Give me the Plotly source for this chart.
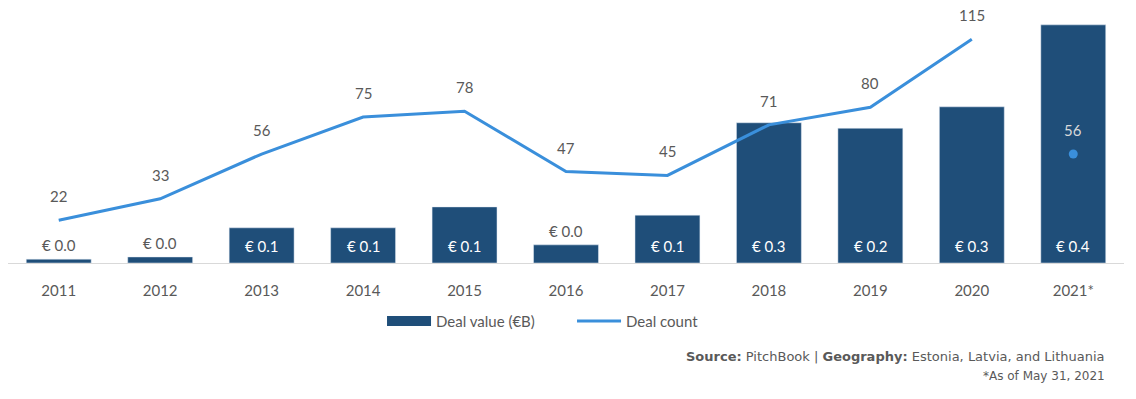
import plotly.graph_objects as go

years = ["2011", "2012", "2013", "2014", "2015", "2016", "2017", "2018", "2019", "2020", "2021*"]
deal_value = [0.007, 0.011, 0.064, 0.064, 0.102, 0.033, 0.087, 0.255, 0.245, 0.284, 0.433]
deal_count = [22, 33, 56, 75, 78, 47, 45, 71, 80, 115, 56]
label_outside = [True, True, False, False, False, True, False, False, False, False, False]

BAR = "#1F4E79"
LINE = "#3A8FDB"
GRAY = "#595959"
FONT = "Lato, 'Open Sans', sans-serif"
SRC_FONT = "'DejaVu Sans', sans-serif"

fig = go.Figure()
fig.add_trace(go.Bar(
    x=years, y=deal_value, name="Deal value (€B)",
    marker_color=BAR, showlegend=False,
))
# legend entry with a wide rectangle icon
fig.add_trace(go.Scatter(
    x=[None], y=[None], name="Deal value (€B)", mode="lines",
    line=dict(color=BAR, width=10),
))
fig.add_trace(go.Scatter(
    x=years[:-1], y=deal_count[:-1], name="Deal count", mode="lines",
    line=dict(color=LINE, width=3), yaxis="y2",
))
fig.add_trace(go.Scatter(
    x=years[-1:], y=deal_count[-1:], mode="markers", showlegend=False,
    marker=dict(color=LINE, size=9), yaxis="y2",
))

for i, (v, out) in enumerate(zip(deal_value, label_outside)):
    if out:
        fig.add_annotation(x=i, y=v, xref="x", yref="y", text=f"€ {v:.1f}",
                           showarrow=False, yanchor="bottom", yshift=3,
                           font=dict(size=15, color=GRAY, family=FONT))
    else:
        fig.add_annotation(x=i, y=0, xref="x", yref="y", text=f"€ {v:.1f}",
                           showarrow=False, yanchor="middle", yshift=17,
                           font=dict(size=15, color="white", family=FONT))

for i, c in enumerate(deal_count):
    last = i == len(years) - 1
    fig.add_annotation(x=i, y=c, xref="x", yref="y2", text=str(c),
                       showarrow=False, yshift=24,
                       font=dict(size=15, color="#D9D9D9" if last else GRAY, family=FONT))

fig.add_annotation(xref="paper", yref="paper", x=0.985, y=-0.368, xanchor="right", yanchor="middle",
                   text="<b>Source:</b> PitchBook | <b>Geography:</b> Estonia, Latvia, and Lithuania",
                   showarrow=False, font=dict(size=13, color=GRAY, family=SRC_FONT))
fig.add_annotation(xref="paper", yref="paper", x=0.985, y=-0.447, xanchor="right", yanchor="middle",
                   text="*As of May 31, 2021",
                   showarrow=False, font=dict(size=12, color=GRAY, family=SRC_FONT))

fig.update_layout(
    width=1136, height=399,
    margin=dict(l=0, r=20, t=2, b=144),
    paper_bgcolor="white", plot_bgcolor="white",
    bargap=0.36,
    font=dict(family=FONT, color=GRAY, size=15),
    showlegend=True,
    legend=dict(orientation="h", x=0.5054, xanchor="center", y=-0.23, yanchor="middle",
                font=dict(size=15, color=GRAY, family=FONT), itemwidth=44,
                entrywidth=131, entrywidthmode="pixels"),
    xaxis=dict(type="category", range=[-0.5, len(years) - 0.5], autorange=False,
               showgrid=False, showline=True, linecolor="#D9D9D9", linewidth=1,
               ticks="outside", ticklen=14, tickcolor="rgba(0,0,0,0)",
               tickfont=dict(size=15, color=GRAY, family=FONT)),
    yaxis=dict(range=[0, 0.46], autorange=False, visible=False, showgrid=False),
    yaxis2=dict(range=[0, 130], autorange=False, overlaying="y", side="right",
                visible=False, showgrid=False),
)

fig.write_html("out.html")
